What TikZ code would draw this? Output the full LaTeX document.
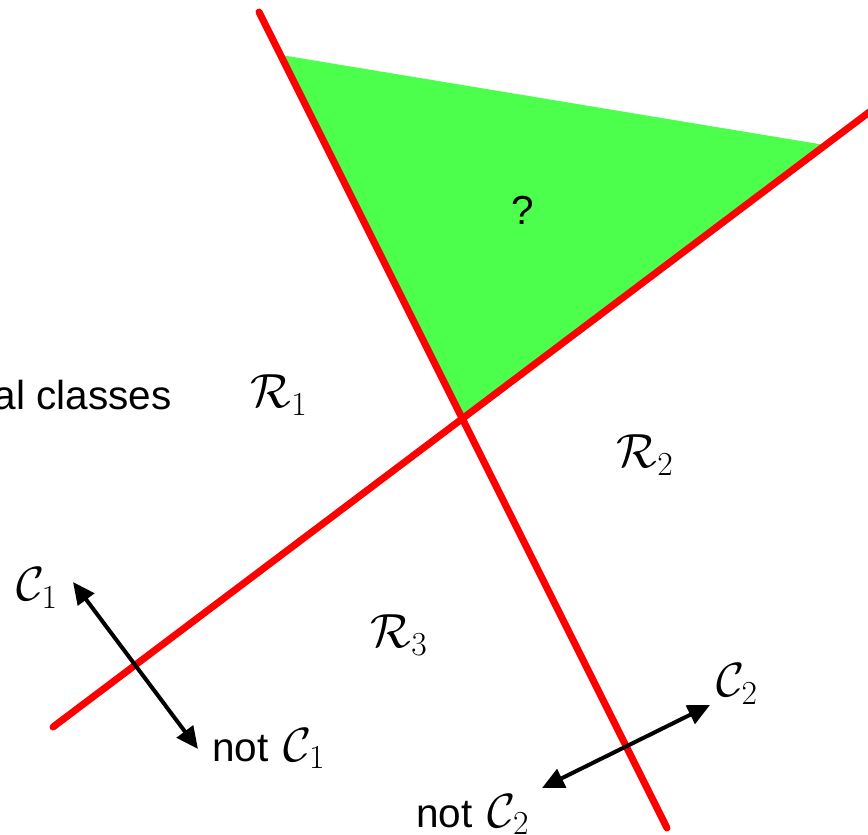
\RequirePackage{fix-cm}
\documentclass[tikz,border=0pt]{standalone}
\usepackage{fontspec}
\setmainfont{Liberation Sans}
\usetikzlibrary{arrows.meta}
\definecolor{regiongreen}{RGB}{77,255,77}
\newcommand{\mathbig}[1]{{\fontsize{48}{57}\selectfont$#1$}}
\tikzset{
  boundary/.style={red, line width=7pt, line cap=round},
  dirarrow/.style={black, line width=4pt, {Triangle[length=22pt,width=20pt]}-{Triangle[length=22pt,width=20pt]}},
  lbl/.style={inner sep=0pt, font=\fontsize{40.5}{48}\selectfont}
}
\begin{document}
\begin{tikzpicture}[x=1pt,y=-1pt]
\clip (0,0) rectangle (868,835);
\fill[white] (0,0) rectangle (868,835);
% boundary end points
\coordinate (a1) at (259,12);
\coordinate (a2) at (667,828);
\coordinate (b1) at (53,727);
\coordinate (b2) at (880,104);
% green triangle
\coordinate (t1) at (281,55);
\coordinate (t2) at (825,145);
\coordinate (t3) at (462,419);
\fill[regiongreen] (t1) -- (t2) -- (t3) -- cycle;
\draw[boundary] (a1) -- (a2);
\draw[boundary] (b1) -- (b2);
% arrows
\coordinate (c1a) at (73,582);
\coordinate (c1b) at (198,749);
\coordinate (c2a) at (710,705);
\coordinate (c2b) at (542,788);
\draw[dirarrow] (c1a) -- (c1b);
\draw[dirarrow] (c2a) -- (c2b);
% labels
\node[lbl] (q) at (523,210) {?};
\node[lbl] (r1) at (279,395) {\mathbig{\mathcal{R}_1}};
\node[lbl] (r2) at (645,455) {\mathbig{\mathcal{R}_2}};
\node[lbl] (r3) at (399,635) {\mathbig{\mathcal{R}_3}};
\node[lbl, anchor=east] (cls) at (172,395) {al classes};
\node[lbl] (c1) at (37,588) {\mathbig{\mathcal{C}_1}};
\node[lbl, anchor=base west] (nc1) at (212,761) {not\hspace{4pt} \mathbig{\mathcal{C}_1}};
\node[lbl] (c2) at (737,684) {\mathbig{\mathcal{C}_2}};
\node[lbl, anchor=base west] (nc2) at (416,827) {not\hspace{4pt} \mathbig{\mathcal{C}_2}};
\end{tikzpicture}
\end{document}
